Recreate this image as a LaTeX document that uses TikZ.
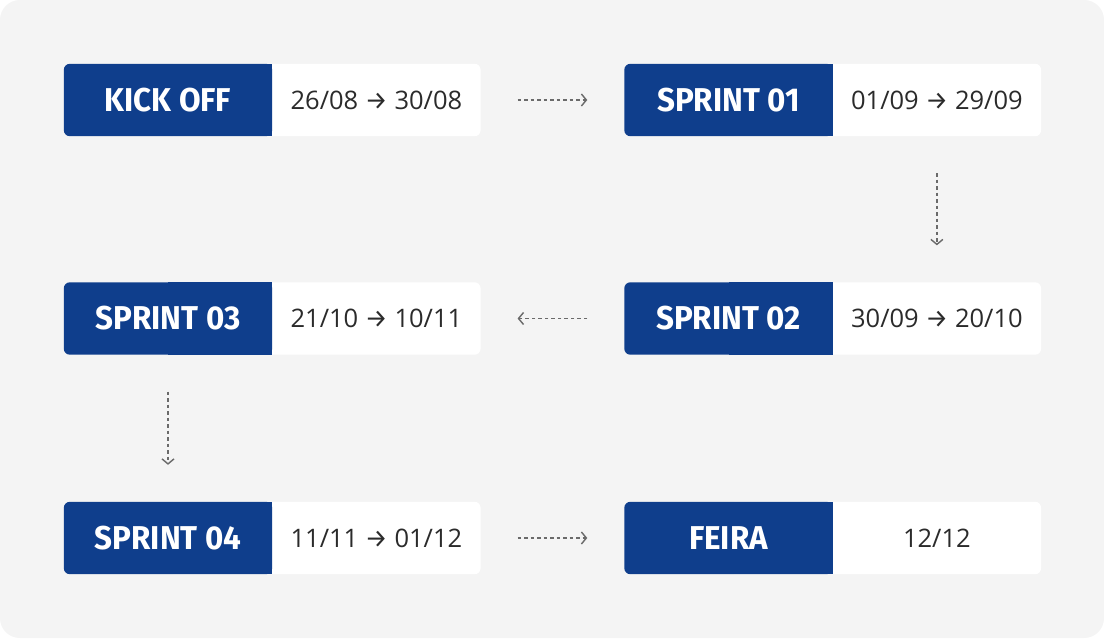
\documentclass[tikz,border=0pt]{standalone}
\usepackage{fontspec}
\usepackage{tikz}
\usetikzlibrary{arrows.meta,backgrounds,positioning}
\setmainfont{Open Sans}
\newfontfamily\tagfont{Fira Sans}[FakeStretch=0.95]
\newfontfamily\arrowfont{Fira Sans}
\newcommand{\toarrow}{{\arrowfont\symbol{"2192}}}
\definecolor{sprintblue}{HTML}{0F3E8C}
\definecolor{panelgray}{HTML}{F4F4F4}
\definecolor{datetext}{HTML}{2B2B2B}
\definecolor{flowgray}{HTML}{6A6A6A}
\tikzset{
  tag/.style={minimum width=208pt, minimum height=72pt, inner sep=0pt, text=white,
    font=\tagfont\bfseries\fontsize{33}{33}\selectfont},
  date/.style={minimum width=208pt, minimum height=72pt, inner sep=0pt, text=datetext,
    font=\fontsize{25.5}{25.5}\selectfont},
  flow/.style={flowgray, line width=1.4pt, dash pattern=on 3.5pt off 3pt,
    -{Straight Barb[length=5pt,width=12pt]}, shorten <=37pt, shorten >=37pt}
}

\begin{document}
\begin{tikzpicture}[x=1pt,y=-1pt]
\node[tag] (kick) at (168,100) {KICK OFF};
\node[date, right=0pt of kick] (kick-date) {26/08 \toarrow{} 30/08};
\node[tag] (one) at (728.5,100) {SPRINT 01};
\node[date, right=0pt of one] (one-date) {01/09 \toarrow{} 29/09};
\node[tag] (two) at (728.5,318.5) {SPRINT 02};
\node[date, right=0pt of two] (two-date) {30/09 \toarrow{} 20/10};
\node[tag] (three) at (168,318.5) {SPRINT 03};
\node[date, right=0pt of three] (three-date) {21/10 \toarrow{} 10/11};
\node[tag] (four) at (168,538) {SPRINT 04};
\node[date, right=0pt of four] (four-date) {11/11 \toarrow{} 01/12};
\node[tag] (feira) at (728.5,538) {FEIRA};
\node[date, right=0pt of feira] (feira-date) {12/12};
% flow
\draw[flow] (kick-date) -- (one);
\draw[flow] (one-date) -- (two-date);
\draw[flow] (two) -- (three-date);
\draw[flow] (three) -- (four);
\draw[flow] (four-date) -- (feira);
\begin{scope}[on background layer]
\fill[white] (0,0) rectangle (1104,638);
\fill[panelgray, rounded corners=20pt] (0,0) rectangle (1104,638);
\foreach \n in {kick,one,two,three,four,feira}{
  \fill[white, rounded corners=6pt] (\n.south) rectangle (\n-date.north east);
  \fill[sprintblue, rounded corners=6pt] (\n.south west) rectangle (\n.north east);
  \fill[sprintblue] (\n.south) rectangle (\n.north east);
}
\end{scope}
\end{tikzpicture}
\end{document}
